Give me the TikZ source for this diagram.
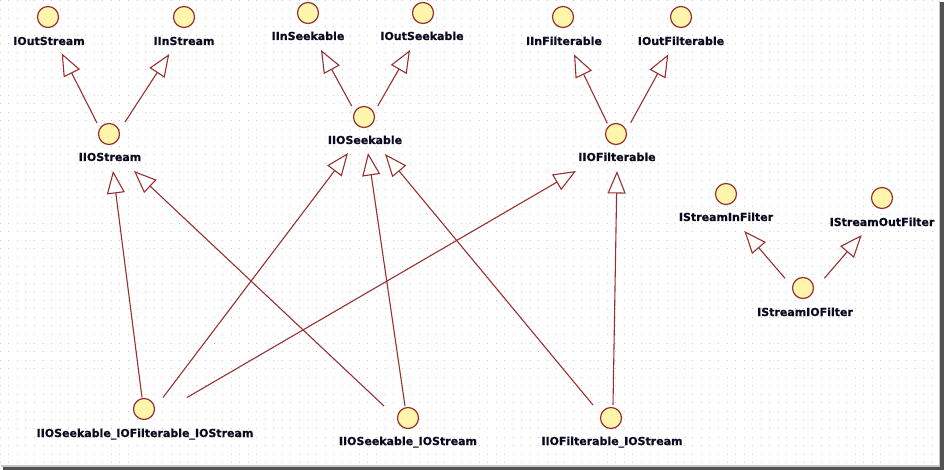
\documentclass[tikz,border=0pt]{standalone}
\usepackage{fontspec}
\setmainfont{DejaVu Sans}
\newfontfamily\lblfont{DejaVu Sans}[BoldFeatures={FakeBold=0.6}]
\usetikzlibrary{arrows.meta}
\definecolor{lnk}{HTML}{993030}
\definecolor{ifill}{HTML}{FFF6AC}
\definecolor{dotc}{HTML}{C8C8C8}
\definecolor{txt}{HTML}{0A0A20}
\tikzset{
  iface/.style={circle, draw=lnk, line width=1.2pt, fill=ifill, minimum size=21pt, inner sep=0pt},
  lbl/.style={anchor=base, inner sep=0pt, text=txt, font=\lblfont\fontsize{11pt}{12pt}\selectfont\bfseries},
  conn/.style={draw=lnk, line width=1.1pt, -{Triangle[open, length=22.5pt 0 0, width=18pt 0 0, fill=white]}}
}
\begin{document}
\begin{tikzpicture}[x=1pt,y=-1pt]
\useasboundingbox (0,0) rectangle (944,470);
\fill[white] (0,0) rectangle (944,470);
% grid dots
\foreach \j in {0,...,54}
  \draw[dotc, line width=1pt, dash pattern=on 1pt off 7.55pt] (-0.25,{1+8.55*\j}) -- (938,{1+8.55*\j});
% frame shadow
\fill[gray!45] (938.5,1) rectangle (940,466);
\fill[black!68] (940,2.5) rectangle (944,470);
\fill[gray!45] (1,465) rectangle (940,466.5);
\fill[black!68] (2.5,466.5) rectangle (944,470);

% interfaces
\node[iface] (outs) at (48,17) {};
\node[lbl] (outsL) at (49,45) {IOutStream};
\node[iface] (ins) at (184,17) {};
\node[lbl] (insL) at (184,45) {IInStream};
\node[iface] (ios) at (109,134) {};
\node[lbl] (iosL) at (110,161) {IIOStream};
\node[iface] (inseek) at (308,13) {};
\node[lbl] (inseekL) at (308,40) {IInSeekable};
\node[iface] (outseek) at (423,13) {};
\node[lbl] (outseekL) at (422,40) {IOutSeekable};
\node[iface] (ioseek) at (364,117) {};
\node[lbl] (ioseekL) at (365,144) {IIOSeekable};
\node[iface] (infilt) at (563,17) {};
\node[lbl] (infiltL) at (564,45) {IInFilterable};
\node[iface] (outfilt) at (681,17) {};
\node[lbl] (outfiltL) at (681,45) {IOutFilterable};
\node[iface] (iofilt) at (616,134) {};
\node[lbl] (iofiltL) at (617,161) {IIOFilterable};
\node[iface] (sin) at (726,194) {};
\node[lbl] (sinL) at (726,221) {IStreamInFilter};
\node[iface] (sout) at (882,198) {};
\node[lbl] (soutL) at (882,226) {IStreamOutFilter};
\node[iface] (sio) at (803,288) {};
\node[lbl] (sioL) at (805,316) {IStreamIOFilter};
\node[iface] (all) at (144,409) {};
\node[lbl] (allL) at (145,437) {IIOSeekable\_IOFilterable\_IOStream};
\node[iface] (seekio) at (408,418) {};
\node[lbl] (seekioL) at (408,445) {IIOSeekable\_IOStream};
\node[iface] (filtio) at (611,418) {};
\node[lbl] (filtioL) at (612,445) {IIOFilterable\_IOStream};

% connector end points
\coordinate (a1s) at (97,123);    \coordinate (a1t) at (61.7,53.3);
\coordinate (a2s) at (125,122);   \coordinate (a2t) at (169.3,54);
\coordinate (a3s) at (351.7,106); \coordinate (a3t) at (321,50);
\coordinate (a4s) at (377.7,106); \coordinate (a4t) at (410,50);
\coordinate (a5s) at (607.3,123.3); \coordinate (a5t) at (574,54.3);
\coordinate (a6s) at (630.7,122.7); \coordinate (a6t) at (668.3,54.3);
\coordinate (a7s) at (785,278.3); \coordinate (a7t) at (744.3,231);
\coordinate (a8s) at (824.3,278.3); \coordinate (a8t) at (861.7,235);
\coordinate (b1s) at (142,397.5); \coordinate (b1t) at (113,171);
\coordinate (b2s) at (384,406);   \coordinate (b2t) at (134,171);
\coordinate (b3s) at (163,397.5); \coordinate (b3t) at (348,153);
\coordinate (b4s) at (405,406);   \coordinate (b4t) at (368,153);
\coordinate (b5s) at (593,405);   \coordinate (b5t) at (385,154);
\coordinate (b6s) at (187,397.5); \coordinate (b6t) at (576,171);
\coordinate (b7s) at (613,405);   \coordinate (b7t) at (617,171);

\foreach \c in {a1,a2,a3,a4,a5,a6,a7,a8,b1,b2,b3,b4,b5,b6,b7}
  \draw[conn] (\c s) -- (\c t);
\end{tikzpicture}
\end{document}
